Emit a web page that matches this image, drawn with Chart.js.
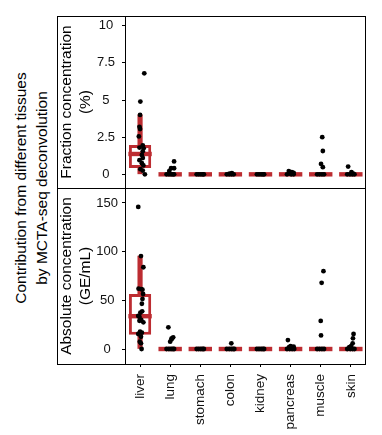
<!DOCTYPE html>
<html><head><meta charset="utf-8">
<script src="https://cdn.jsdelivr.net/npm/chart.js@4.4.1/dist/chart.umd.min.js"></script>
<style>
html,body{margin:0;padding:0;background:#fff;}
#wrap{position:relative;width:382px;height:435px;overflow:hidden;font-family:"Liberation Sans",Arial,sans-serif;}
canvas{position:absolute;left:0;top:0;}
#bigTitle{position:absolute;width:300px;height:42px;left:-119px;top:167px;transform:rotate(-90deg);text-align:center;font-size:15.5px;line-height:21px;color:#000;white-space:nowrap;}
</style></head>
<body><div id="wrap">
<div id="bigTitle">Contribution from different tissues<br>by MCTA-seq deconvolution</div>
<canvas id="cTop" width="382" height="435" style="width:382px;height:435px"></canvas>
<canvas id="cBot" width="382" height="435" style="width:382px;height:435px"></canvas>
</div>
<script>
// ---------- data ----------
const categories = ['liver','lung','stomach','colon','kidney','pancreas','muscle','skin'];

// Fraction concentration (%) - box statistics
const fracQ1  = [0.42, 0, 0, 0, 0, 0, 0, 0];
const fracMed = [1.37, 0, 0, 0, 0, 0, 0, 0];
const fracQ3  = [1.98, 0, 0, 0, 0, 0, 0, 0];
const fracLo  = [0, 0, 0, 0, 0, 0, 0, 0];
const fracHi  = [4.0, 0, 0, 0, 0, 0, 0, 0];
const fracTicks = [0, 2.5, 5, 7.5, 10];

// Fraction concentration (%) - individual samples per tissue
const fracValues = [
  [6.8, 4.9, 4.0, 3.2, 3.05, 2.55, 1.95, 1.8, 1.75, 1.55, 1.3, 1.1, 0.95, 0.75, 0.6, 0.35, 0.25, 0.0],
  [0.87, 0.41, 0.41, 0.22, 0, 0, 0, 0, 0],
  [0, 0, 0, 0, 0],
  [0.08, 0.05, 0, 0, 0, 0],
  [0, 0, 0, 0, 0],
  [0.22, 0.15, 0.1, 0.05, 0, 0, 0],
  [2.5, 1.57, 0.7, 0.48, 0, 0, 0, 0],
  [0.52, 0.15, 0.05, 0, 0, 0, 0]
];
const fracJitter = [
  [0.14, 0.01, 0.0, -0.02, 0.0, -0.04, 0.09, -0.02, 0.12, 0.09, 0.06, 0.09, -0.02, 0.06, 0.11, 0.01, 0.09, 0.16],
  [0.13, 0.03, 0.13, -0.03, -0.12, -0.04, 0.03, 0.09, 0.13],
  [-0.12, -0.05, 0.02, 0.08, 0.12],
  [0.05, -0.03, -0.12, -0.04, 0.04, 0.11],
  [-0.12, -0.05, 0.02, 0.08, 0.12],
  [-0.06, 0.04, 0.1, -0.02, -0.12, 0.02, 0.1],
  [0.05, 0.07, 0.01, 0.07, -0.12, -0.04, 0.04, 0.11],
  [-0.09, 0.02, 0.08, -0.12, -0.03, 0.05, 0.12]
];

// Absolute concentration (GE/mL) - box statistics
const absQ1  = [14.6, 0, 0, 0, 0, 0, 0, 0];
const absMed = [33.7, 0, 0, 0, 0, 0, 0, 0];
const absQ3  = [56.6, 0, 0, 0, 0, 0, 0, 0];
const absLo  = [0, 0, 0, 0, 0, 0, 0, 0];
const absHi  = [95.5, 0, 0, 0, 0, 0, 0, 0];
const absTicks = [0, 50, 100, 150];

// Absolute concentration (GE/mL) - individual samples per tissue
const absValues = [
  [146, 95.5, 84, 62, 61.6, 61, 56.5, 51.4, 46.5, 38.7, 37.3, 34, 33, 29.8, 29, 27.4, 17.8, 16.8, 15.4, 12.6, 7.5, 5.8, 0],
  [22.3, 12, 11, 10, 7.5, 0, 0, 0, 0, 0],
  [0, 0, 0, 0, 0],
  [5.8, 0, 0, 0, 0, 0],
  [0, 0, 0, 0, 0],
  [9.2, 3, 2.4, 2, 0, 0, 0, 0],
  [80, 68, 28.8, 14, 0, 0, 0, 0],
  [15.4, 11, 5.8, 3, 2, 0, 0, 0, 0]
];
const absJitter = [
  [-0.06, 0.03, 0.11, -0.05, 0.04, 0.08, 0.1, 0.08, 0.06, 0.07, 0.01, -0.06, -0.02, 0.04, -0.02, 0.11, 0.0, 0.06, -0.06, 0.03, -0.01, 0.03, 0.05],
  [-0.06, 0.1, 0.05, 0.05, 0.0, -0.12, -0.04, 0.03, 0.09, 0.13],
  [-0.12, -0.05, 0.02, 0.08, 0.12],
  [0.03, -0.12, -0.04, 0.03, 0.09, 0.13],
  [-0.12, -0.05, 0.02, 0.08, 0.12],
  [-0.09, 0.0, 0.1, -0.05, -0.12, -0.03, 0.05, 0.12],
  [0.09, 0.03, 0.0, 0.01, -0.12, -0.04, 0.04, 0.11],
  [0.09, 0.07, 0.06, 0.01, -0.05, -0.12, -0.02, 0.06, 0.12]
];

// ---------- drawing ----------
const RED = '#BC2C31';
const FONT = '"Liberation Sans", Arial, sans-serif';

const framePlugin = {
  id: 'frame',
  afterDraw(chart) {
    const {ctx, chartArea: a, scales} = chart;
    const left = Math.round(scales.y.left);
    ctx.save();
    ctx.strokeStyle = '#000';
    ctx.lineWidth = 1;
    ctx.strokeRect(left + 0.5, Math.round(a.top) + 0.5, Math.round(a.right) - left - 1, Math.round(a.bottom - a.top));
    ctx.restore();
  }
};

function toPoints(values, jitter) {
  const pts = [];
  values.forEach((arr, i) => arr.forEach((v, k) => pts.push({x: i + jitter[i][k], y: v})));
  return pts;
}

function makePanel(id, o) {
  return new Chart(document.getElementById(id), {
    type: 'bar',
    data: {
      labels: categories,
      datasets: [
        {type: 'scatter', data: toPoints(o.values, o.jitter), xAxisID: 'xj', yAxisID: 'y',
         pointRadius: 2.4, backgroundColor: '#000', borderWidth: 0, order: 0},
        {type: 'line', data: o.med, xAxisID: 'x', yAxisID: 'y', showLine: false,
         pointStyle: 'line', pointRadius: 11.7, pointBorderWidth: 4.4, pointBorderColor: RED, order: 1},
        {type: 'bar', data: o.q1.map((q, i) => [q, o.q3[i]]), xAxisID: 'x', yAxisID: 'y', grouped: false,
         backgroundColor: '#fff', borderColor: RED, borderWidth: 3, borderSkipped: false,
         barPercentage: 0.74, categoryPercentage: 1, order: 2},
        {type: 'bar', data: o.lo.map((l, i) => [l, o.hi[i]]), xAxisID: 'x', yAxisID: 'y', grouped: false,
         backgroundColor: RED, borderWidth: 0, barThickness: 4.5, order: 3}
      ]
    },
    options: {
      responsive: false, animation: false, events: [],
      layout: {padding: o.pad},
      plugins: {legend: {display: false}, tooltip: {enabled: false}},
      scales: {
        x: {
          type: 'category', offset: true, display: o.showX,
          grid: {display: true, drawOnChartArea: false, offset: false, tickLength: 3, tickColor: '#000', tickWidth: 1},
          border: {display: true, color: '#000', width: 1},
          ticks: {color: '#111', font: {family: FONT, size: 13.5}, maxRotation: 90, minRotation: 90, padding: 7, autoSkip: false},
          afterFit(s) { if (o.showX) { s.height = 71; } s.paddingLeft = 0; s.paddingRight = 0; }
        },
        xj: {type: 'linear', display: false, offset: false, min: -0.5, max: 7.5},
        y: {
          type: 'linear', position: 'left', min: o.min, max: o.max,
          afterBuildTicks(s) { s.ticks = o.ticks.map(v => ({value: v})); },
          grid: {display: true, drawOnChartArea: false, tickLength: 3, tickColor: '#000', tickWidth: 1},
          border: {display: true, color: '#000', width: 1},
          ticks: {color: '#111', font: {family: FONT, size: 13}, crossAlign: 'center', padding: o.tickPad,
                  callback: v => String(v)},
          title: {display: true, text: o.title, color: '#000', padding: 0,
                  font: {family: FONT, size: 15.5, lineHeight: 1.245}},
          afterFit(s) { s.width = 68; s.paddingTop = 0; s.paddingBottom = 0; }
        }
      }
    },
    plugins: [framePlugin]
  });
}

makePanel('cTop', {
  values: fracValues, jitter: fracJitter, q1: fracQ1, med: fracMed, q3: fracQ3, lo: fracLo, hi: fracHi,
  ticks: fracTicks, min: -0.92, max: 10.65, title: ['Fraction concentration', '(%)'],
  pad: {left: 57, right: 5, top: 11, bottom: 247}, showX: false, tickPad: 7
});
makePanel('cBot', {
  values: absValues, jitter: absJitter, q1: absQ1, med: absMed, q3: absQ3, lo: absLo, hi: absHi,
  ticks: absTicks, min: -15.4, max: 165.4, title: ['Absolute concentration', '(GE/mL)'],
  pad: {left: 57, right: 5, top: 188, bottom: 0}, showX: true, tickPad: 4
});
</script>
</body></html>
